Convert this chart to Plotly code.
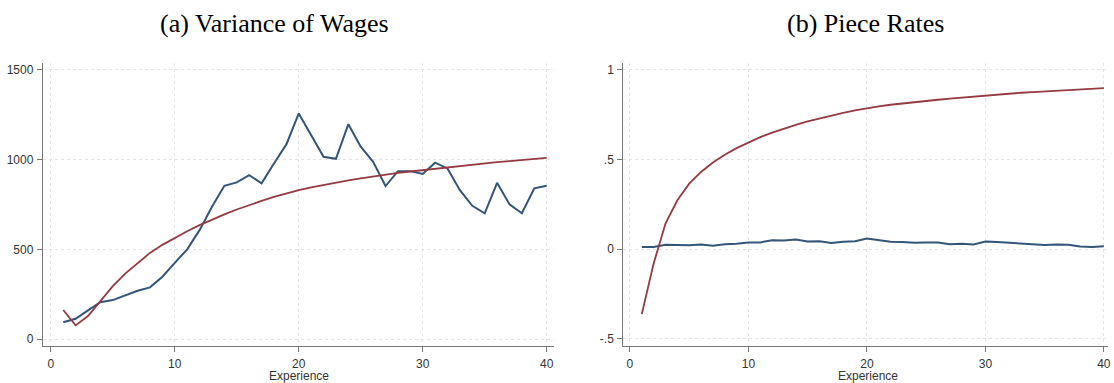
import plotly.graph_objects as go

experience = list(range(1, 41))

wage_var_actual = [93, 113, 160, 205, 217, 241, 269, 288, 347, 425,
                   500, 607, 737, 854, 873, 914, 868, 979, 1085, 1258,
                   1137, 1016, 1005, 1198, 1072, 988, 853, 936, 936, 920,
                   983, 951, 830, 743, 701, 871, 751, 701, 840, 855]

wage_var_model = [162, 76, 128, 210, 295, 365, 425, 480, 525, 565,
                  601, 635, 666, 695, 722, 747, 770, 792, 812, 830,
                  846, 860, 873, 885, 896, 907, 917, 926, 934, 942,
                  950, 958, 965, 972, 979, 986, 992, 998, 1004, 1010]

piece_actual = [0.012, 0.012, 0.025, 0.022, 0.022, 0.026, 0.020, 0.028, 0.030, 0.037,
                0.038, 0.050, 0.048, 0.054, 0.043, 0.045, 0.035, 0.042, 0.045, 0.060,
                0.052, 0.042, 0.040, 0.036, 0.038, 0.037, 0.028, 0.030, 0.026, 0.043,
                0.040, 0.036, 0.030, 0.025, 0.024, 0.027, 0.025, 0.015, 0.013, 0.017]

piece_model = [-0.362, -0.080, 0.143, 0.273, 0.366, 0.431, 0.484, 0.527, 0.564, 0.596,
               0.625, 0.650, 0.673, 0.694, 0.713, 0.730, 0.746, 0.761, 0.775, 0.788,
               0.797, 0.806, 0.814, 0.821, 0.828, 0.834, 0.840, 0.846, 0.852, 0.858,
               0.863, 0.868, 0.873, 0.877, 0.881, 0.885, 0.889, 0.893, 0.896, 0.899]

x_ticks = [0, 10, 20, 30, 40]
left_y_ticks = [0, 500, 1000, 1500]
left_y_text = ["0", "500", "1000", "1500"]
right_y_ticks = [-0.5, 0, 0.5, 1]
right_y_text = ["-.5", "0", ".5", "1"]

titles = ["(a) Variance of Wages", "(b) Piece Rates"]
x_title = "Experience"

BLUE = "#33557a"
RED = "#943a40"
W, H = 1114, 383

fig = go.Figure()
fig.add_trace(go.Scatter(x=experience, y=wage_var_actual, mode="lines",
                         line=dict(color=BLUE, width=2), xaxis="x", yaxis="y"))
fig.add_trace(go.Scatter(x=experience, y=wage_var_model, mode="lines",
                         line=dict(color=RED, width=1.8), xaxis="x", yaxis="y"))
fig.add_trace(go.Scatter(x=experience, y=piece_actual, mode="lines",
                         line=dict(color=BLUE, width=2), xaxis="x2", yaxis="y2"))
fig.add_trace(go.Scatter(x=experience, y=piece_model, mode="lines",
                         line=dict(color=RED, width=1.8), xaxis="x2", yaxis="y2"))

y_dom = [1 - 346 / H, 1 - 63 / H]
axis_common = dict(showline=True, linecolor="#777777", linewidth=1.2,
                   ticks="outside", ticklen=5, tickcolor="#777777",
                   ticklabelstandoff=1,
                   showgrid=True, gridcolor="#e4e4e4", griddash="dot", gridwidth=1,
                   zeroline=False,
                   tickfont=dict(family="Liberation Sans, Arial", size=12, color="#333333"))

fig.update_layout(
    width=W, height=H,
    margin=dict(l=0, r=0, t=0, b=0),
    paper_bgcolor="white", plot_bgcolor="white",
    showlegend=False,
    xaxis=dict(domain=[43 / W, 555 / W], range=[-0.64, 40.55], tickvals=x_ticks,
               anchor="y", **axis_common),
    yaxis=dict(domain=y_dom, range=[-39, 1539], tickvals=left_y_ticks,
               ticktext=left_y_text, anchor="x", **axis_common),
    xaxis2=dict(domain=[625 / W, 1111 / W], range=[-0.56, 40.35], tickvals=x_ticks,
                anchor="y2", **axis_common),
    yaxis2=dict(domain=y_dom, range=[-0.54, 1.039], tickvals=right_y_ticks,
                ticktext=right_y_text, anchor="x2", **axis_common),
)

for cx, t in zip([275, 868], titles):
    fig.add_annotation(x=cx / W, y=1 - 24 / H, xref="paper", yref="paper",
                       xanchor="center", yanchor="middle",
                       text=t, showarrow=False,
                       font=dict(family="Liberation Serif, Times New Roman", size=26, color="black"))
for cx in [300, 870]:
    fig.add_annotation(x=cx / W, y=1 - 376 / H, xref="paper", yref="paper",
                       xanchor="center", yanchor="middle",
                       text=x_title, showarrow=False,
                       font=dict(family="Liberation Sans, Arial", size=12, color="#333333"))

fig.write_html("out.html")
